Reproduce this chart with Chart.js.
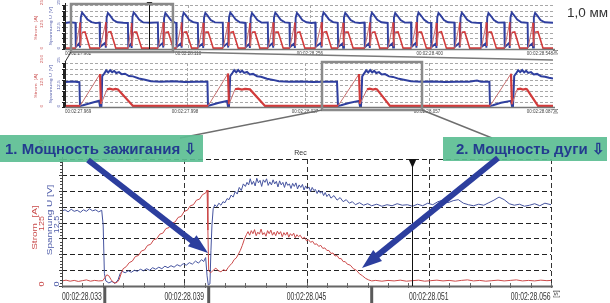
<!DOCTYPE html>
<html><head><meta charset="utf-8">
<script src="https://cdn.jsdelivr.net/npm/chart.js@4/dist/chart.umd.min.js"></script>
<style>
html,body{margin:0;padding:0;background:#fff;}
#wrap{position:relative;width:610px;height:303px;overflow:hidden;background:#fff;}
canvas{position:absolute;left:0;top:0;}
svg{position:absolute;left:0;top:0;}
.box{position:absolute;background:rgba(92,190,146,0.92);color:#233b8f;font:bold 15px "Liberation Sans",Arial,sans-serif;white-space:nowrap;box-sizing:border-box;overflow:hidden;}
#mm{position:absolute;left:567px;top:5px;font:13.5px "Liberation Sans",Arial,sans-serif;color:#333;white-space:nowrap;}
</style></head>
<body><div id="wrap">
<canvas id="cTop" width="610" height="303"></canvas>
<canvas id="cMid" width="610" height="303"></canvas>
<canvas id="cDet" width="610" height="303"></canvas>
<svg width="610" height="303" viewBox="0 0 610 303">
  <line x1="71" y1="52" x2="65" y2="62" stroke="#333" stroke-width="1"/>
  <line x1="173" y1="52" x2="553" y2="60" stroke="#7a7a7a" stroke-width="1.5"/>
  <line x1="322" y1="110" x2="180" y2="138" stroke="#6e6e6e" stroke-width="1.5"/>
  <line x1="422" y1="110" x2="492" y2="138" stroke="#6e6e6e" stroke-width="1.5"/>
</svg>
<div class="box" style="left:0;top:135px;width:203px;height:27px;line-height:27px;padding-left:5px;">1. Мощность зажигания ⇩</div>
<div class="box" style="left:443px;top:137px;width:164px;height:24px;line-height:24px;padding-left:13px;">2. Мощность дуги ⇩</div>
<svg width="610" height="303" viewBox="0 0 610 303">
  <line x1="88" y1="160" x2="196" y2="244" stroke="#2c3e9e" stroke-width="6"/>
  <polygon points="208,253 187.9,246.2 196.5,235.2" fill="#2c3e9e"/>
  <line x1="498" y1="158" x2="373" y2="259" stroke="#2c3e9e" stroke-width="6"/>
  <polygon points="362,268 373.2,250 382,260.9" fill="#2c3e9e"/>
</svg>
<div id="mm">1,0 мм</div>
</div>
<script>
// ================= DATA =================
// Overview trace (time in ms from 00:02:27.962), pairs [t, value]
const topVoltage = [0,14.8, 6,15.2,
 12.5,14.9, 13,1.2, 17.5,3.4, 18,0.8, 19,18.0, 20.5,20.7, 23,19.3, 27,16.8, 32,15.3, 37,14.7,
 41.5,15.0, 42,1.1, 48.5,3.6, 49,0.7, 50,17.8, 51.5,20.5, 54,19.1, 58,16.5, 63,15.2, 70,14.9,
 75.5,14.8, 76,1.0, 79.5,3.1, 80,0.6, 81,18.2, 82.5,20.8, 85,19.4, 89,16.7, 94,15.1, 103,14.9,
 111.5,15.1, 112,1.2, 117.5,3.5, 118,0.8, 119,17.6, 120.5,20.4, 123,19.0, 127,16.4, 132,15.0,
 133.5,14.9, 134,1.1, 139.5,3.3, 140,0.7, 141,18.0, 142.5,20.6, 145,19.2, 149,16.6, 154,15.3,
 159.5,14.8, 160,1.0, 165.5,3.2, 166,0.6, 167,17.9, 168.5,20.5, 171,19.1, 175,16.5, 180,15.1,
 189.5,15.0, 190,1.2, 195.5,3.5, 196,0.8, 197,18.1, 198.5,20.7, 201,19.3, 205,16.7, 210,15.2,
 216.5,14.8, 217,1.0, 221.5,3.0, 222,0.6, 223,17.7, 224.5,20.4, 227,19.0, 231,16.4, 236,15.0,
 243.5,15.1, 244,1.1, 249.5,3.4, 250,0.7, 251,18.0, 252.5,20.6, 255,19.2, 259,16.6, 264,15.1,
 269.5,14.9, 270,1.0, 275.5,3.3, 276,0.6, 277,17.8, 278.5,20.5, 281,19.1, 285,16.5, 290,15.2, 296,14.8,
 300.5,15.0, 301,1.2, 307.5,3.6, 308,0.8, 309,18.2, 310.5,20.8, 313,19.4, 317,16.8, 322,15.3,
 327.5,14.9, 328,1.1, 333.5,3.2, 334,0.7, 335,17.9, 336.5,20.5, 339,19.1, 343,16.5, 348,15.1, 354,14.8,
 359.5,15.0, 360,1.0, 365.5,3.4, 366,0.6, 367,18.0, 368.5,20.6, 371,19.2, 375,16.6, 380,15.2,
 387.5,14.8, 388,1.2, 393.5,3.3, 394,0.8, 395,17.8, 396.5,20.4, 399,19.0, 403,16.4, 408,15.0,
 415.5,15.1, 416,1.1, 421.5,3.5, 422,0.7, 423,18.1, 424.5,20.7, 427,19.3, 431,16.7, 436,15.0,
 439.5,14.9, 440,1.0, 445.5,3.2, 446,0.6, 447,17.9, 448.5,20.5, 451,19.1, 455,16.5, 460,15.2,
 467.5,15.0, 468,1.2, 473.5,3.4, 474,0.8, 475,18.0, 476.5,20.6, 479,19.2, 483,16.6, 488,15.1, 494,14.9,
 499.5,14.8, 500,1.1, 505.5,3.3, 506,0.7, 507,17.8, 508.5,20.4, 511,19.0, 515,16.4, 520,15.0,
 527.5,15.1, 528,1.0, 533.5,3.5, 534,0.6, 535,18.1, 536.5,20.7, 539,19.3, 543,16.7, 548,15.2,
 555.5,14.9, 556,1.2, 561.5,3.2, 562,0.8, 563,17.9, 564.5,20.5, 567,19.1, 571,16.5, 576,15.2, 586,14.9];
const topCurrent = [0,5,
 13,5, 18,150, 18.6,18, 20.5,94, 24,97, 30,5,
 42,5, 49,152, 49.6,16, 51.5,95, 55,98, 61,5,
 76,5, 80,148, 80.6,17, 82.5,96, 86,96, 92,5,
 112,5, 118,151, 118.6,18, 120.5,94, 124,97, 130,5,
 134,5, 140,150, 140.6,16, 142.5,95, 146,97, 152,5,
 160,5, 166,149, 166.6,17, 168.5,96, 172,96, 178,5,
 190,5, 196,152, 196.6,18, 198.5,94, 202,98, 208,5,
 217,5, 222,148, 222.6,16, 224.5,95, 228,97, 234,5,
 244,5, 250,151, 250.6,17, 252.5,96, 256,96, 262,5,
 270,5, 276,150, 276.6,18, 278.5,94, 282,97, 288,5,
 301,5, 308,152, 308.6,16, 310.5,95, 314,98, 320,5,
 328,5, 334,149, 334.6,17, 336.5,96, 340,96, 346,5,
 360,5, 366,151, 366.6,18, 368.5,94, 372,97, 378,5,
 388,5, 394,150, 394.6,16, 396.5,95, 400,97, 406,5,
 416,5, 422,152, 422.6,17, 424.5,96, 428,96, 434,5,
 440,5, 446,148, 446.6,18, 448.5,94, 452,98, 458,5,
 468,5, 474,151, 474.6,16, 476.5,95, 480,97, 486,5,
 500,5, 506,150, 506.6,17, 508.5,96, 512,96, 518,5,
 528,5, 534,152, 534.6,18, 536.5,94, 540,97, 546,5,
 556,5, 562,149, 562.6,16, 564.5,95, 568,98, 574,5, 586,5];
const topTickTimes  = [0, 148, 294, 438, 586];
const topTickLabels = ['00:02:27.962','00:02:28.110','00:02:28.256','00:02:28.400','00:02:28.548'];
const topGridTimes  = [148, 294, 438];
const topCursorTime = 100.8;
const topZoomRange  = [7.2, 129.6];

// Middle trace (time in ms from 00:02:27.969)
const midVoltage = [0,14.2, 2,14.5, 3.6,14.1, 3.75,0.6, 4.5,1.0, 6.5,2.3, 8.5,3.5, 8.75,0.4, 9.1,0.3, 9.3,17.5, 9.8,19.0, 10.3,20.8, 10.8,19.6, 11.3,20.9, 11.8,19.8, 12.3,20.5, 12.8,19.3, 13.5,19.8, 14.2,18.6, 15,18.9, 16,17.6, 17,17.4, 18.5,16.2, 20,15.5, 21.5,14.6, 24,14.3, 27,14.6, 30,14.2, 33,14.4, 35.6,14.3,
 35.75,0.6, 36.5,1.1, 38.5,2.4, 40.5,3.4, 40.75,0.4, 41.0,0.3, 41.3,17.6, 41.8,19.2, 42.3,20.9, 42.8,19.7, 43.3,21.0, 43.8,19.8, 44.3,20.6, 44.8,19.4, 45.5,19.9, 46.2,18.5, 47,18.8, 48,17.5, 49,17.2, 50.5,16.1, 52,15.4, 53.5,14.6, 56,14.3, 59,14.5, 62,14.2, 65,14.4, 68,14.3,
 68.25,0.6, 69,1.0, 71,2.3, 73.5,3.5, 73.75,0.4, 74,0.3, 74.3,17.4, 74.8,19.1, 75.3,20.8, 75.8,19.6, 76.3,21.0, 76.8,19.7, 77.3,20.5, 77.8,19.3, 78.5,19.8, 79.2,18.5, 80,18.7, 81,17.4, 82,17.1, 83.5,16.0, 85,15.3, 86.5,14.6, 89,14.3, 92,14.5, 95,14.2, 98,14.4, 101,14.3, 103,15.0, 104,14.4, 106.1,14.3,
 106.25,0.6, 107,1.0, 109,2.4, 111.5,3.5, 111.75,0.4, 112,0.3, 112.3,17.6, 112.8,19.2, 113.3,20.9, 113.8,19.8, 114.3,21.0, 114.8,19.7, 115.3,20.6, 115.8,19.4, 116.5,19.8, 117.2,18.5, 118,18.8, 119,17.5, 120,17.2, 121,16.6, 122,16.2];
const midCurrent = [0,6, 3.75,6, 8.75,188, 9.0,17, 10.5,100, 11.2,104, 12,99, 12.6,103, 13.25,100, 17,6,
 35.75,6, 40.75,190, 41,16, 42.5,101, 43.3,104, 44.2,99, 45,103, 46.25,100, 50,6,
 68.25,6, 73.5,187, 73.75,17, 75.5,100, 76.2,104, 77,99, 77.6,103, 78,100, 81.25,6,
 106.25,6, 111.5,189, 111.75,16, 113,100, 113.8,104, 114.5,99, 115.2,103, 115.5,100, 118.25,6, 122,6];
const midTickTimes  = [0, 30, 60, 90.5, 122];
const midTickLabels = ['00:02:27.969','00:02:27.998','00:02:28.027','00:02:28.057','00:02:28.087'];
const midGridTimes  = [30.5, 60, 91];
const midZoomRange  = [64.25, 89.25];

// Detail trace (time in ms, 00:02:28.0xx)
const detVoltage = [33.0,14.8, 33.15,15.0, 33.3,14.6, 33.45,15.1, 33.6,14.7, 33.75,14.9, 33.9,14.5, 34.05,15.0, 34.2,14.7, 34.35,15.2, 34.5,14.8, 34.65,15.0, 34.8,14.6, 34.95,14.9,
 35.02,12.0, 35.08,2.5, 35.15,1.0, 35.3,0.6, 35.45,0.9, 35.6,0.5, 35.75,1.2, 35.85,2.4, 35.95,2.9, 36.1,2.6, 36.25,3.0, 36.4,2.7, 36.55,3.1, 36.7,2.9, 36.85,3.3, 37.0,3.0, 37.15,3.4, 37.3,3.1, 37.45,3.6, 37.6,3.3, 37.75,3.7, 37.9,3.4, 38.05,3.9, 38.2,3.6, 38.35,4.0, 38.5,3.7, 38.65,4.2, 38.8,3.9, 38.95,4.4, 39.1,4.1, 39.25,4.6, 39.4,4.3, 39.55,4.9, 39.7,4.5, 39.85,5.2, 39.95,4.8, 40.05,5.6,
 40.12,2.0, 40.18,0.2, 40.26,0.4, 40.31,7.0, 40.36,12.0, 40.42,15.2, 40.5,16.0, 40.6,15.6, 40.7,16.3, 40.8,15.9, 40.9,16.6, 41.0,16.4, 41.1,17.2, 41.2,17.0, 41.3,17.9, 41.4,17.5, 41.5,18.6, 41.6,18.1, 41.7,19.4, 41.8,18.8, 41.9,20.1,
 42.0,19.6, 42.08,20.4, 42.16,19.9, 42.24,21.1, 42.32,20.0, 42.4,20.6, 42.48,19.7, 42.56,21.2, 42.64,20.3, 42.72,20.8, 42.8,19.6, 42.88,20.9, 42.96,20.4, 43.04,21.1, 43.12,19.8, 43.2,20.5, 43.28,19.9, 43.36,20.9, 43.44,20.1, 43.52,20.6, 43.6,19.5, 43.68,20.7, 43.76,19.9, 43.84,20.4, 43.92,19.4, 44.0,20.5, 44.08,19.8, 44.16,20.1, 44.24,19.2, 44.32,20.2, 44.4,19.6, 44.48,20.3, 44.56,19.1, 44.64,19.9, 44.72,19.4, 44.8,20.0, 44.88,18.9, 44.96,19.7, 45.04,19.1, 45.12,19.5, 45.2,18.6, 45.28,19.4, 45.36,18.8, 45.44,19.0, 45.52,18.2, 45.6,18.9, 45.68,18.3, 45.76,18.6, 45.84,17.8, 45.92,18.4, 46.0,17.6, 46.1,18.1, 46.2,17.3, 46.35,17.8, 46.5,16.9, 46.65,17.4, 46.8,16.6, 46.95,17.0, 47.1,16.3, 47.25,16.6, 47.4,16.0, 47.6,16.4, 47.8,15.9, 48.0,16.2, 48.2,15.8, 48.45,16.1, 48.7,15.7, 48.95,16.0, 49.2,15.8, 49.45,16.2, 49.7,15.9, 49.95,16.0, 50.2,15.7, 50.45,16.1, 50.7,15.8, 50.95,16.3, 51.2,16.0, 51.45,16.6, 51.7,16.9, 51.95,16.4, 52.2,16.8, 52.45,17.0, 52.7,16.3, 52.95,16.0, 53.2,15.8, 53.45,16.1, 53.7,15.9, 53.95,16.4, 54.2,16.9, 54.45,17.5, 54.7,17.0, 54.95,16.2, 55.2,15.9, 55.45,16.1, 55.7,15.7, 55.95,15.9, 56.2,16.2, 56.45,15.8, 56.7,16.3, 56.9,16.1, 57.0,16.0];
const detCurrent = [33.0,10, 33.2,11.5, 33.4,9.5, 33.6,11, 33.8,9, 34.0,10.5, 34.2,12, 34.4,9.5, 34.6,11, 34.8,10, 35.0,10.5,
 35.1,16, 35.2,22, 35.3,20, 35.4,13, 35.5,8, 35.6,6, 35.7,7, 35.8,12, 35.9,24, 36.0,34,
 36.15,38, 36.3,46, 36.45,49, 36.6,58, 36.75,60, 36.9,69, 37.05,71, 37.2,80, 37.35,82, 37.5,91, 37.65,93, 37.8,102, 37.95,104, 38.1,113, 38.25,115, 38.4,124, 38.55,126, 38.7,135, 38.85,137, 39.0,147, 39.15,149, 39.3,158, 39.45,160, 39.6,169, 39.75,171, 39.9,180, 40.05,183, 40.12,189,
 40.16,110, 40.2,30, 40.3,26, 40.42,31, 40.55,35, 40.68,30, 40.8,28, 40.92,32, 41.05,30, 41.15,36, 41.25,41, 41.35,45, 41.45,52, 41.55,55, 41.65,62, 41.75,70, 41.85,80, 41.95,92, 42.05,101,
 42.13,107, 42.21,100, 42.29,109, 42.37,103, 42.45,111, 42.53,99, 42.61,106, 42.69,102, 42.77,112, 42.85,101, 42.93,105, 43.01,98, 43.09,109, 43.17,103, 43.25,110, 43.33,100, 43.41,106, 43.49,99, 43.57,108, 43.65,102, 43.73,107, 43.81,97, 43.89,105, 43.97,100, 44.05,106, 44.13,96, 44.21,103, 44.29,99, 44.37,104, 44.45,95, 44.53,101, 44.61,97, 44.69,100,
 44.8,93, 44.9,96, 45.0,89, 45.1,91, 45.2,86, 45.3,88, 45.4,82, 45.5,83, 45.6,78, 45.7,80, 45.8,74, 45.9,75, 46.0,70, 46.1,70, 46.2,64, 46.3,65, 46.4,59, 46.5,60, 46.6,54, 46.7,54, 46.8,48, 46.9,48, 47.0,43, 47.15,41, 47.3,34, 47.45,31, 47.6,24, 47.75,20, 47.9,15, 48.05,12, 48.2,10,
 48.4,11, 48.7,9.5, 49.0,11, 49.3,10, 49.6,11.5, 49.9,9.5, 50.2,10.5, 50.5,11.5, 50.8,9.5, 51.1,10.5, 51.4,11.5, 51.7,10, 52.0,11, 52.3,9.5, 52.6,11, 52.9,12, 53.2,10, 53.5,11, 53.8,9.5, 54.1,10.5, 54.4,11.5, 54.7,10, 55.0,11, 55.3,12, 55.6,10, 55.9,11, 56.2,10, 56.5,11.5, 56.8,10.5, 57.0,11];
const detTickTimes  = [33, 39, 45, 51, 56];
const detTickLabels = ['00:02:28.033','00:02:28.039','00:02:28.045','00:02:28.051','00:02:28.056'];
const detGridTimes  = [39, 45, 51, 57];
const detCursorTime = 50.2;
const detEventTimes = [35.1, 40.2, 48.2];

const voltTickLabels = ['0','12,5','25'];
const currTickLabels = ['0','125','250'];
const voltTitle = 'Spannung U [V]';
const currTitle = 'Strom  [A]';

// ================= DRAWING =================
const RED = '#d23b3b', BLUE = '#2f3f9f';
function pts(flat){ const o=[]; for(let i=0;i<flat.length;i+=2) o.push({x:flat[i], y:flat[i+1]}); return o; }

function rtext(ctx, t, x, y, color, size, sy){
  ctx.save(); ctx.translate(x,y); ctx.rotate(-Math.PI/2); ctx.scale(1, sy||1);
  ctx.fillStyle=color; ctx.font=size+'px "Liberation Sans", Arial, sans-serif';
  ctx.textAlign='center'; ctx.textBaseline='middle'; ctx.fillText(t,0,0); ctx.restore();
}

const scopePlugin = {
  id:'scope',
  beforeDatasetsDraw(chart, args, o){
    const {ctx, chartArea:a} = chart; const sx=chart.scales.x, sy=chart.scales.yV;
    ctx.save(); ctx.lineWidth=1; ctx.strokeStyle=o.gridColor; ctx.setLineDash(o.dash);
    for(let i=1;i<=8;i++){
      const py=Math.round(sy.getPixelForValue(25*i/8))+0.5;
      ctx.beginPath(); ctx.moveTo(a.left,py); ctx.lineTo(a.right,py); ctx.stroke();
    }
    ctx.strokeStyle=o.vGridColor;
    for(const t of o.xGrid){ const px=Math.round(sx.getPixelForValue(t))+0.5;
      ctx.beginPath(); ctx.moveTo(px,a.top); ctx.lineTo(px,a.bottom); ctx.stroke(); }
    ctx.restore();
  },
  afterDatasetsDraw(chart, args, o){
    const {ctx, chartArea:a} = chart; const sx=chart.scales.x, sy=chart.scales.yV;
    ctx.save();
    ctx.strokeStyle=o.axisColor; ctx.lineWidth=1;
    ctx.beginPath(); ctx.moveTo(a.left+0.5,a.top-2); ctx.lineTo(a.left+0.5,a.bottom); ctx.stroke();
    for(let i=0;i<=40;i++){ const py=Math.round(sy.getPixelForValue(25*i/40))+0.5;
      ctx.beginPath(); ctx.moveTo(a.left-(i%5===0?3:2),py); ctx.lineTo(a.left,py); ctx.stroke(); }
    ctx.strokeStyle=o.xAxisColor; ctx.lineWidth=o.xAxisWidth;
    ctx.beginPath(); ctx.moveTo(a.left,a.bottom+0.5); ctx.lineTo(a.right+2,a.bottom+0.5); ctx.stroke();
    ctx.lineWidth=1;
    if(o.minorX){ for(let t=sx.min;t<=sx.max+1e-6;t+=o.minorX){ const px=Math.round(sx.getPixelForValue(t))+0.5;
      ctx.beginPath(); ctx.moveTo(px,a.bottom-3); ctx.lineTo(px,a.bottom+2); ctx.stroke(); } }
    ctx.fillStyle=o.xLabelColor; ctx.font=o.xLabelSize+'px "Liberation Sans", Arial, sans-serif'; ctx.textBaseline='middle';
    o.xTicks.forEach((t,i)=>{ const px=sx.getPixelForValue(t); ctx.save(); ctx.translate(px,o.xLabelY); ctx.scale(o.xLabelScale,1);
      ctx.textAlign=o.xAlign[i]; ctx.fillText(o.xLabels[i],0,0); ctx.restore(); });
    for(const L of o.yLabels){ rtext(ctx, L[0], L[2], sy.getPixelForValue(L[3])+L[4], L[1], L[5], L[6]); }
    if(o.cursor!=null){ const px=Math.round(sx.getPixelForValue(o.cursor))+0.5; ctx.strokeStyle='#111'; ctx.lineWidth=1; ctx.setLineDash([]);
      ctx.beginPath(); ctx.moveTo(px,a.top+o.triY); ctx.lineTo(px,a.bottom); ctx.stroke();
      ctx.fillStyle='#111'; ctx.beginPath(); ctx.moveTo(px-o.triW,a.top+o.triY); ctx.lineTo(px+o.triW,a.top+o.triY); ctx.lineTo(px,a.top+o.triY+o.triH); ctx.closePath(); ctx.fill(); }
    if(o.events){ ctx.strokeStyle='#5a5a5a'; ctx.lineWidth=3;
      for(const t of o.events){ const px=sx.getPixelForValue(t); ctx.beginPath(); ctx.moveTo(px,a.bottom); ctx.lineTo(px,a.bottom+18); ctx.stroke(); } }
    if(o.zoom){ const x0=sx.getPixelForValue(o.zoom[0]), x1=sx.getPixelForValue(o.zoom[1]);
      ctx.strokeStyle='#8a8a8a'; ctx.lineWidth=2.5; ctx.strokeRect(x0,a.top-1,x1-x0,a.bottom-a.top+4); }
    if(o.rec){ ctx.fillStyle='#333'; ctx.font=o.rec[2]+'px "Liberation Sans", Arial, sans-serif'; ctx.textAlign='center'; ctx.textBaseline='middle';
      ctx.fillText('Rec', (a.left+a.right)/2+o.rec[0], a.top+o.rec[1]); }
    rtext(ctx,'[s]', a.right+o.unitDx, a.bottom+o.unitDy, '#444', o.unitSize, 1);
    ctx.restore();
  }
};

function makeChart(id, volt, curr, xmin, xmax, pad, lw, plug){
  // ignition ramps (steep current rise over a long stretch) are drawn as a thin, lighter trace
  const thinRamp = plug.thinRamp;
  return new Chart(document.getElementById(id), {
    type:'line',
    data:{datasets:[
      {data:pts(curr), yAxisID:'yA', borderColor:plug.red, borderWidth:lw[1], pointRadius:0, tension:0,
       segment: thinRamp ? {
         borderWidth: c => (c.p1.parsed.y - c.p0.parsed.y > 60 ? 1 : undefined),
         borderColor: c => (c.p1.parsed.y - c.p0.parsed.y > 60 ? '#c87070' : undefined)
       } : undefined},
      {data:pts(volt), yAxisID:'yV', borderColor:plug.blue, borderWidth:lw[0], pointRadius:0, tension:0}
    ]},
    options:{responsive:false, animation:false, events:[],
      layout:{padding:pad},
      plugins:{legend:{display:false}, tooltip:{enabled:false}, scope:plug},
      scales:{ x:{type:'linear',min:xmin,max:xmax,display:false},
               yV:{min:0,max:25,display:false}, yA:{min:0,max:250,display:false} }
    },
    plugins:[scopePlugin]
  });
}

const smallY = (fs)=>[
  [currTickLabels[2],'#d06060',42,25,-4,fs,0.8],[currTickLabels[1],'#d06060',42,12.5,-3,fs,0.8],[currTickLabels[0],'#d06060',42,0,-1,fs,0.8],
  [voltTickLabels[2],'#5a64ae',59,25,-3,fs,0.8],[voltTickLabels[1],'#5a64ae',59,12.5,0,fs,0.8],[voltTickLabels[0],'#5a64ae',59,0,-1,fs,0.8],
  [currTitle,'#d06060',36,12,0,fs+0.5,0.8],[voltTitle,'#5a64ae',51,13,0,fs+0.5,0.8]];

makeChart('cTop', topVoltage, topCurrent, 0, 586, {left:65,right:57,top:5,bottom:254}, [1.9,1.6], {
  red:RED, blue:BLUE, thinRamp:true, gridColor:'#a8a8a8', vGridColor:'#a8a8a8', dash:[3,2], axisColor:'#222', xAxisColor:'#777', xAxisWidth:1.5,
  minorX:0, xTicks:topTickTimes, xLabels:topTickLabels, xAlign:['left','center','center','center','right'],
  xLabelY:54, xLabelSize:5, xLabelScale:0.9, xLabelColor:'#444', yLabels:smallY(5),
  xGrid:topGridTimes, cursor:topCursorTime, triY:-3, triW:3, triH:4, zoom:topZoomRange, unitDx:3, unitDy:3, unitSize:4.5});

makeChart('cMid', midVoltage, midCurrent, 0, 122, {left:65,right:57,top:63,bottom:196}, [2,2.2], {
  red:RED, blue:BLUE, thinRamp:true, gridColor:'#a8a8a8', vGridColor:'#a8a8a8', dash:[3,2], axisColor:'#222', xAxisColor:'#777', xAxisWidth:1.5,
  minorX:0, xTicks:midTickTimes, xLabels:midTickLabels, xAlign:['left','center','center','center','right'],
  xLabelY:112, xLabelSize:5, xLabelScale:0.9, xLabelColor:'#444', yLabels:smallY(5),
  xGrid:midGridTimes, cursor:null, zoom:midZoomRange, unitDx:3, unitDy:4, unitSize:4.5});

makeChart('cDet', detVoltage, detCurrent, 33, 57, {left:62,right:59,top:159,bottom:17}, [1,1], {
  red:'#cc4a4a', blue:'#45539f', thinRamp:false, gridColor:'#222', vGridColor:'#333', dash:[5,3], axisColor:'#444', xAxisColor:'#666', xAxisWidth:2,
  minorX:1, xTicks:detTickTimes, xLabels:detTickLabels, xAlign:['left','center','center','center','center'],
  xLabelY:297, xLabelSize:10, xLabelScale:0.68, xLabelColor:'#333',
  yLabels:[[currTickLabels[2],'#c84848',42.5,25,-12,9,0.7],[currTickLabels[1],'#c84848',42.5,12.5,1,9,0.7],[currTickLabels[0],'#c84848',42.5,0,-2,9,0.7],
           [voltTickLabels[2],'#4a58a6',57.5,25,-7,9,0.7],[voltTickLabels[1],'#4a58a6',57.5,12.5,2,9,0.7],[voltTickLabels[0],'#4a58a6',57.5,0,-2,9,0.7],
           [currTitle,'#c84848',35.5,11.5,0,10,0.7],[voltTitle,'#4a58a6',50,13,0,10,0.7]],
  xGrid:detGridTimes, cursor:detCursorTime, triY:0, triW:4, triH:9, events:detEventTimes,
  rec:[-6,-6,7], unitDx:5, unitDy:8, unitSize:7});
</script>
</body></html>
